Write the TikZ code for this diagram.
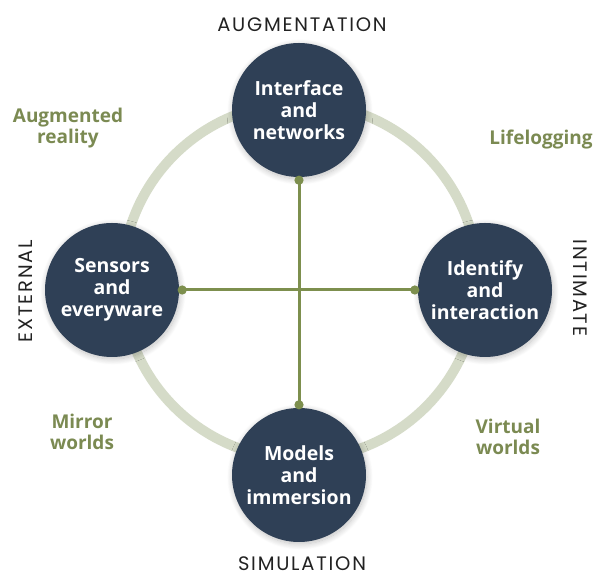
\documentclass[tikz,border=0pt]{standalone}
\usepackage{fontspec}
\setmainfont{Open Sans}
\newfontfamily\capfont[LetterSpace=9]{Poppins}
\usetikzlibrary{arrows.meta,shadows.blur}
\definecolor{hubfill}{HTML}{2F4056}
\definecolor{lbl}{HTML}{7B8A52}
\definecolor{crossc}{HTML}{7D8F4E}
\definecolor{ringc}{HTML}{D5DBC8}
\definecolor{capc}{HTML}{222222}
\tikzset{
  hub/.style={circle, fill=hubfill, minimum size=134pt, inner sep=0pt, align=center,
    text=white, font=\fontsize{19.5}{22}\selectfont\bfseries,
    blur shadow={shadow blur steps=14, shadow blur radius=6pt, shadow xshift=1pt, shadow yshift=-2pt, shadow opacity=25, shadow scale=1.0}},
  zone/.style={align=center, text=lbl, font=\fontsize{19}{21.5}\selectfont\bfseries},
  axis/.style={text=capc, anchor=base, inner sep=0pt, font=\capfont\fontsize{19.5}{22}\selectfont},
  cross/.style={draw=crossc, line width=3pt, {Circle[length=9pt]}-{Circle[length=9pt]}, shorten <=-1.5pt, shorten >=-1.5pt},
  ring/.style={draw=ringc, line width=10pt}
}
\begin{document}
\begin{tikzpicture}[x=1pt,y=1pt]
\useasboundingbox (0,0) rectangle (597,577);
\draw[ring] (300,296) circle[radius=178];
\node[hub] (top) at (299,467) {Interface\\and\\networks};
\node[hub] (left) at (112,287) {Sensors\\and\\everyware};
\node[hub] (right) at (485,287) {Identify\\and\\interaction};
\node[hub] (bottom) at (299,102) {Models\\and\\immersion};
\draw[cross] (top.south) -- (bottom.north);
\draw[cross] (left.east) -- (right.west);
\node[axis] (aug) at (302,545) {AUGMENTATION};
\node[axis] (sim) at (302,6.5) {SIMULATION};
\node[axis, rotate=90] (ext) at (32,286) {EXTERNAL};
\node[axis, rotate=-90] (int) at (573,289) {INTIMATE};
\node[zone] (ar) at (68,449) {Augmented\\reality};
\node[zone] (ll) at (541,437) {Lifelogging};
\node[zone] (mw) at (82,145) {Mirror\\worlds};
\node[zone] (vw) at (508,140) {Virtual\\worlds};
\end{tikzpicture}
\end{document}
